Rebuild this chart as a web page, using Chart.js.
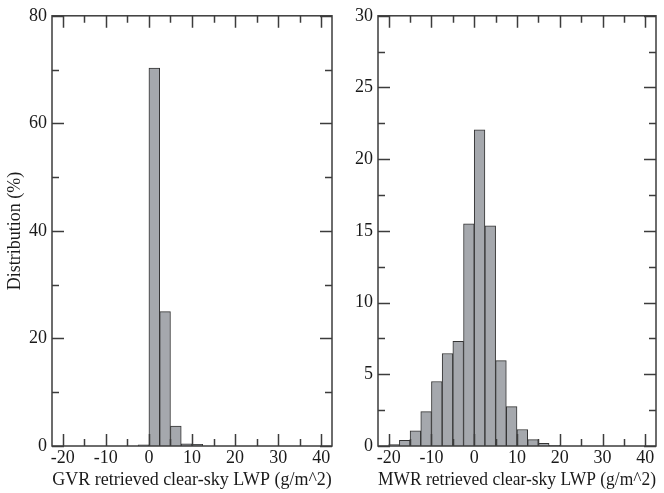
<!DOCTYPE html>
<html>
<head>
<meta charset="utf-8">
<script src="https://cdn.jsdelivr.net/npm/chart.js@4.4.1/dist/chart.umd.min.js"></script>
<style>
  html, body { margin: 0; padding: 0; background: #fff; overflow: hidden; width: 664px; height: 493px; }
  .wrap { position: absolute; top: 0; height: 493px; }
  #w1 { left: 0; width: 352px; }
  #w2 { left: 340px; width: 340px; }
</style>
</head>
<body>
<div class="wrap" id="w1"><canvas id="c1"></canvas></div>
<div class="wrap" id="w2"><canvas id="c2"></canvas></div>
<script>
// ---- data (bin centres, bin width 2.5 g/m^2) ----
const gvrBins   = [-1.25, 1.25, 3.75, 6.25, 8.75, 11.25];
const gvrValues = [0.2, 70.3, 25.0, 3.7, 0.4, 0.3];

const mwrBins   = [-18.75, -16.25, -13.75, -11.25, -8.75, -6.25, -3.75, -1.25, 1.25, 3.75, 6.25, 8.75, 11.25, 13.75, 16.25, 18.75];
const mwrValues = [0.1, 0.4, 1.05, 2.4, 4.5, 6.45, 7.3, 15.5, 22.05, 15.35, 5.95, 2.75, 1.15, 0.45, 0.18, 0.05];

const xTitleLeft  = 'GVR retrieved clear-sky LWP (g/m^2)';
const xTitleRight = 'MWR retrieved clear-sky LWP (g/m^2)';
const yTitle      = 'Distribution (%)';

Chart.defaults.font.family = "'Liberation Serif', 'DejaVu Serif', serif";
Chart.defaults.color = '#1a1a1a';

const frameColor = '#3c3c3c';
const FS = 18;

// plugin: frame + inward tick marks on all four sides
const frameTicks = {
  id: 'frameTicks',
  afterDraw(chart, args, opts) {
    const ctx = chart.ctx;
    const a = chart.chartArea;
    const xs = chart.scales.x, ys = chart.scales.y;
    ctx.save();
    ctx.strokeStyle = frameColor;
    ctx.lineWidth = 1.5;
    ctx.strokeRect(a.left, a.top, a.right - a.left, a.bottom - a.top);
    ctx.beginPath();
    xs.ticks.forEach(t => {
      const px = Math.round(xs.getPixelForValue(t.value)) + 0.5;
      const len = (Math.abs(t.value) % opts.xMajor === 0) ? 12 : 7;
      ctx.moveTo(px, a.bottom); ctx.lineTo(px, a.bottom - len);
      ctx.moveTo(px, a.top); ctx.lineTo(px, a.top + len);
    });
    ys.ticks.forEach(t => {
      const py = Math.round(ys.getPixelForValue(t.value)) + 0.5;
      const len = (Math.abs(t.value) % opts.yMajor === 0) ? 12 : 7;
      ctx.moveTo(a.left, py); ctx.lineTo(a.left + len, py);
      ctx.moveTo(a.right, py); ctx.lineTo(a.right - len, py);
    });
    ctx.stroke();
    ctx.restore();
  }
};

function makeChart(id, bins, values, opt) {
  return new Chart(document.getElementById(id), {
    type: 'bar',
    data: {
      datasets: [{
        data: bins.map((b, i) => ({ x: b, y: values[i] })),
        backgroundColor: '#a5a8ad',
        borderColor: '#333333',
        borderWidth: 1,
        barPercentage: 1.0,
        categoryPercentage: 1.0
      }]
    },
    options: {
      responsive: true,
      maintainAspectRatio: false,
      animation: false,
      layout: { padding: { top: 15, right: opt.padRight, bottom: 0, left: 0 } },
      plugins: {
        legend: { display: false },
        tooltip: { enabled: false },
        frameTicks: { xMajor: 10, yMajor: opt.yMajor }
      },
      scales: {
        x: {
          type: 'linear',
          min: -20, max: 40,
          grid: { display: false, drawTicks: false },
          border: { display: false },
          ticks: {
            stepSize: 5,
            autoSkip: false,
            maxRotation: 0,
            padding: 1,
            font: { size: FS },
            color: '#1a1a1a',
            callback: v => (v % 10 === 0 ? String(v) : '')
          },
          title: {
            display: true,
            text: opt.xTitle,
            font: { size: FS },
            color: '#1a1a1a',
            padding: { top: 2, bottom: 2 }
          },
          afterFit: s => { s.height = 47; }
        },
        y: {
          min: 0, max: opt.yMax,
          grid: { display: false, drawTicks: false },
          border: { display: false },
          ticks: {
            stepSize: opt.yStep,
            autoSkip: false,
            padding: 5,
            font: { size: FS },
            color: '#1a1a1a',
            callback: v => (v % opt.yMajor === 0 ? String(v) : '')
          },
          title: {
            display: !!opt.yTitle,
            text: opt.yTitle || '',
            font: { size: FS },
            color: '#1a1a1a',
            padding: { top: 4, bottom: 0 }
          },
          afterFit: s => { s.width = opt.yWidth; }
        }
      }
    },
    plugins: [frameTicks]
  });
}

makeChart('c1', gvrBins, gvrValues, {
  padRight: 20, yMax: 80, yStep: 10, yMajor: 20, yWidth: 52,
  xTitle: xTitleLeft, yTitle: yTitle
});
makeChart('c2', mwrBins, mwrValues, {
  padRight: 24, yMax: 30, yStep: 2.5, yMajor: 5, yWidth: 38,
  xTitle: xTitleRight, yTitle: ''
});
</script>
</body>
</html>
